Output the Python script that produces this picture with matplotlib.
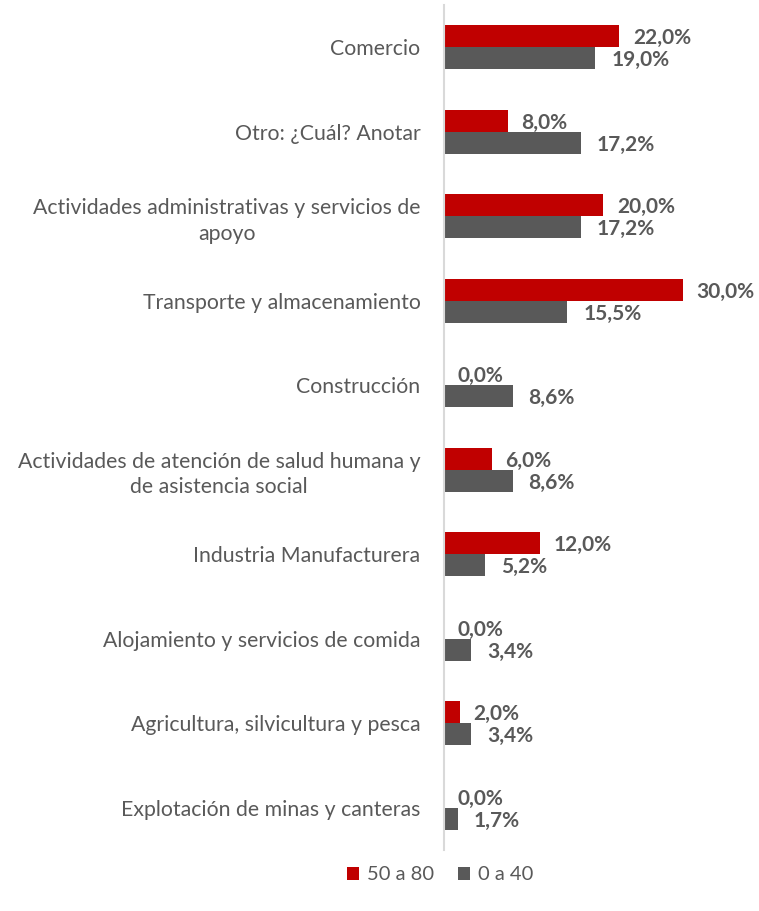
import matplotlib
matplotlib.use("Agg")
import matplotlib.pyplot as plt
import numpy as np

plt.rcParams['font.family'] = ['Lato', 'DejaVu Sans']

categorias = [
    "Comercio",
    "Otro: ¿Cuál? Anotar",
    "Actividades administrativas y servicios de\napoyo",
    "Transporte y almacenamiento",
    "Construcción",
    "Actividades de atención de salud humana y\nde asistencia social",
    "Industria Manufacturera",
    "Alojamiento y servicios de comida",
    "Agricultura, silvicultura y pesca",
    "Explotación de minas y canteras",
]
serie_50_80 = [22.0, 8.0, 20.0, 30.0, 0.0, 6.0, 12.0, 0.0, 2.0, 0.0]
serie_0_40 = [19.0, 17.2, 17.2, 15.5, 8.6, 8.6, 5.2, 3.4, 3.4, 1.7]

ROJO = "#C00000"
GRIS = "#595959"
TEXTO = "#595959"

W, H = 759, 911
fig = plt.figure(figsize=(W / 100, H / 100), dpi=100)
ax = fig.add_axes([444 / W, 1 - 850 / H, (745 - 444) / W, (850 - 5) / H])

n = len(categorias)
y = np.arange(n)
h = 0.26

ax.barh(y - h / 2, serie_50_80, height=h, color=ROJO, label="50 a 80")
ax.barh(y + h / 2, serie_0_40, height=h, color=GRIS, label="0 a 40")

for i in range(n):
    ax.text(serie_50_80[i] + 1.7, y[i] - h / 2, f"{serie_50_80[i]:.1f}%".replace(".", ","),
            va="center_baseline", ha="left", fontsize=15, fontweight="bold", color=TEXTO)
    ax.text(serie_0_40[i] + 2.0, y[i] + h / 2, f"{serie_0_40[i]:.1f}%".replace(".", ","),
            va="center_baseline", ha="left", fontsize=15, fontweight="bold", color=TEXTO)

ax.set_ylim(n - 0.5, -0.5)
ax.set_xlim(0, 30 * (745 - 444) / (683 - 444))
ax.set_yticks(y)
ax.set_yticklabels(categorias, fontsize=15.3, color=TEXTO, multialignment="center",
                   linespacing=1.35)
ax.tick_params(axis="y", length=0, pad=17)
ax.set_xticks([])
for s in ["top", "right", "bottom"]:
    ax.spines[s].set_visible(False)
ax.spines["left"].set_color("#D9D9D9")
ax.spines["left"].set_linewidth(1.5)

handles, labels = ax.get_legend_handles_labels()
fig.legend(handles, labels, loc="center", bbox_to_anchor=(440 / W, 1 - 875 / H),
           ncol=2, frameon=False, fontsize=14.5, labelcolor=TEXTO,
           handlelength=0.6, handleheight=0.6, handletextpad=0.4, columnspacing=1.2)

fig.savefig("out.png", dpi=100)
